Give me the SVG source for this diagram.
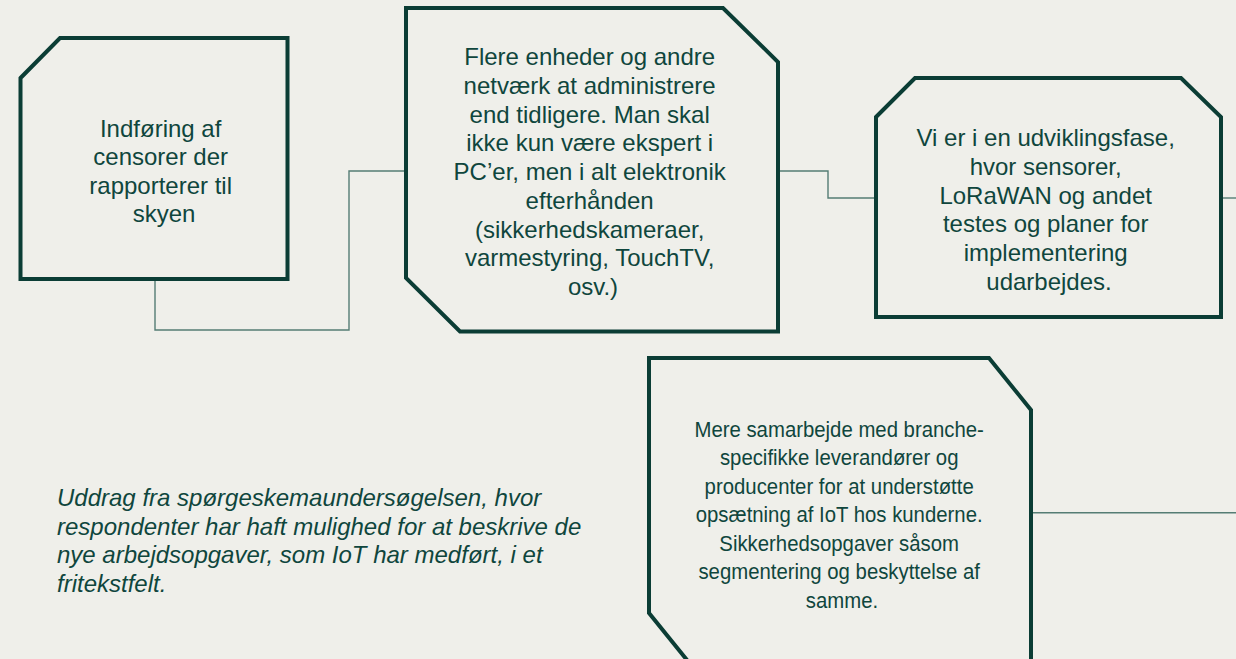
<svg xmlns="http://www.w3.org/2000/svg" width="1236" height="659" viewBox="0 0 1236 659">
<style>
.bg{fill:#EFEFEA}
.box{fill:#EFEFEA;stroke:#0B3D35;stroke-width:4;stroke-linejoin:miter}
.t{font-family:"Liberation Sans",Arial,sans-serif;font-size:24px;fill:#0F463D;text-anchor:middle}
.cap{font-family:"Liberation Sans",Arial,sans-serif;font-size:24px;font-style:italic;fill:#0F463D}
.conn{fill:none;stroke:#557D74;stroke-width:1.4}
</style>
<rect class="bg" x="0" y="0" width="1236" height="659"/>
<g id="connectors">
<path class="conn" d="M155,281 V330 H349 V171 H404"/>
<path class="conn" d="M780,171 H828 V198 H874"/>
<path class="conn" d="M1223,198 H1236"/>
<path class="conn" d="M1033,512.7 H1236"/>
</g>
<g id="node1">
<polygon class="box" points="20.5,78 60,38 287.5,38 287.5,279 20.5,279"/>
<text class="t">
<tspan x="164" y="136.7">Indføring af</tspan>
<tspan x="164" y="165.1">censorer der</tspan>
<tspan x="164" y="193.5">rapporterer til</tspan>
<tspan x="164" y="221.9">skyen</tspan>
</text>
</g>
<g id="node2">
<polygon class="box" points="406,8 723,8 778,62 778,331.5 460,331.5 406,278"/>
<text class="t">
<tspan x="593" y="65">Flere enheder og andre</tspan>
<tspan x="593" y="93.75">netværk at administrere</tspan>
<tspan x="593" y="122.5">end tidligere. Man skal</tspan>
<tspan x="593" y="151.25">ikke kun være ekspert i</tspan>
<tspan x="593" y="180">PC’er, men i alt elektronik</tspan>
<tspan x="593" y="208.75">efterhånden</tspan>
<tspan x="593" y="237.5">(sikkerhedskameraer,</tspan>
<tspan x="593" y="266.25">varmestyring, TouchTV,</tspan>
<tspan x="593" y="295">osv.)</tspan>
</text>
</g>
<g id="node3">
<polygon class="box" points="876,117 915,78 1181,78 1221,117 1221,317 876,317"/>
<text class="t">
<tspan x="1049" y="146">Vi er i en udviklingsfase,</tspan>
<tspan x="1049" y="174.8">hvor sensorer,</tspan>
<tspan x="1049" y="203.6">LoRaWAN og andet</tspan>
<tspan x="1049" y="232.4">testes og planer for</tspan>
<tspan x="1049" y="261.2">implementering</tspan>
<tspan x="1049" y="290">udarbejdes.</tspan>
</text>
</g>
<g id="node4">
<polygon class="box" points="649,358 989,358 1031,410 1031,665 691,665 649,613"/>
<text class="t" style="font-size:23px" transform="translate(842,0) scale(0.885,1)">
<tspan x="0" y="436.7">Mere samarbejde med branche-</tspan>
<tspan x="0" y="465.25">specifikke leverandører og</tspan>
<tspan x="0" y="493.8">producenter for at understøtte</tspan>
<tspan x="0" y="522.35">opsætning af IoT hos kunderne.</tspan>
<tspan x="0" y="550.9">Sikkerhedsopgaver såsom</tspan>
<tspan x="0" y="579.45">segmentering og beskyttelse af</tspan>
<tspan x="0" y="608">samme.</tspan>
</text>
</g>
<g id="caption">
<text class="cap">
<tspan x="57" y="506">Uddrag fra spørgeskemaundersøgelsen, hvor</tspan>
<tspan x="57" y="534.5">respondenter har haft mulighed for at beskrive de</tspan>
<tspan x="57" y="563">nye arbejdsopgaver, som IoT har medført, i et</tspan>
<tspan x="57" y="591.5">fritekstfelt.</tspan>
</text>
</g>
</svg>
